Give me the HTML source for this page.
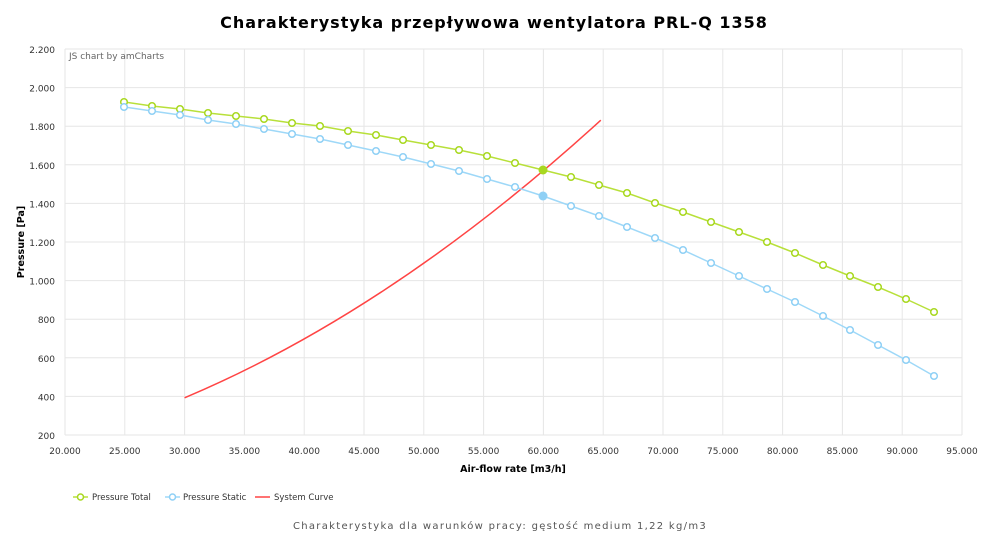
<!DOCTYPE html>
<html><head><meta charset="utf-8"><style>
body{margin:0;background:#fff;width:1000px;height:541px;overflow:hidden;font-family:"DejaVu Sans","Liberation Sans",sans-serif;}
</style></head><body>
<svg width="1000" height="541" xmlns="http://www.w3.org/2000/svg" font-family="DejaVu Sans, Liberation Sans, sans-serif">
<text x="494" y="28" text-anchor="middle" font-size="16" font-weight="bold" letter-spacing="1" fill="#000">Charakterystyka przepływowa wentylatora PRL-Q 1358</text>
<g stroke="#e6e6e6" stroke-width="1">
<line x1="65" y1="49" x2="962" y2="49"/><line x1="65" y1="87.6" x2="962" y2="87.6"/><line x1="65" y1="126.2" x2="962" y2="126.2"/><line x1="65" y1="164.8" x2="962" y2="164.8"/><line x1="65" y1="203.4" x2="962" y2="203.4"/><line x1="65" y1="242" x2="962" y2="242"/><line x1="65" y1="280.6" x2="962" y2="280.6"/><line x1="65" y1="319.2" x2="962" y2="319.2"/><line x1="65" y1="357.8" x2="962" y2="357.8"/><line x1="65" y1="396.4" x2="962" y2="396.4"/><line x1="65" y1="435" x2="962" y2="435"/>
<line x1="65" y1="49" x2="65" y2="435"/><line x1="124.8" y1="49" x2="124.8" y2="435"/><line x1="184.6" y1="49" x2="184.6" y2="435"/><line x1="244.4" y1="49" x2="244.4" y2="435"/><line x1="304.2" y1="49" x2="304.2" y2="435"/><line x1="364" y1="49" x2="364" y2="435"/><line x1="423.8" y1="49" x2="423.8" y2="435"/><line x1="483.6" y1="49" x2="483.6" y2="435"/><line x1="543.4" y1="49" x2="543.4" y2="435"/><line x1="603.2" y1="49" x2="603.2" y2="435"/><line x1="663" y1="49" x2="663" y2="435"/><line x1="722.8" y1="49" x2="722.8" y2="435"/><line x1="782.6" y1="49" x2="782.6" y2="435"/><line x1="842.4" y1="49" x2="842.4" y2="435"/><line x1="902.2" y1="49" x2="902.2" y2="435"/><line x1="962" y1="49" x2="962" y2="435"/>
</g>
<text x="69" y="59" font-size="9" fill="#666">JS chart by amCharts</text>
<g font-size="9" fill="#333" text-anchor="end">
<text x="55" y="53">2.200</text><text x="55" y="91.6">2.000</text><text x="55" y="130.2">1.800</text><text x="55" y="168.8">1.600</text><text x="55" y="207.4">1.400</text><text x="55" y="246">1.200</text><text x="55" y="284.6">1.000</text><text x="55" y="323.2">800</text><text x="55" y="361.8">600</text><text x="55" y="400.4">400</text><text x="55" y="439">200</text>
</g>
<g font-size="9" fill="#333" text-anchor="middle">
<text x="65" y="454">20.000</text><text x="124.8" y="454">25.000</text><text x="184.6" y="454">30.000</text><text x="244.4" y="454">35.000</text><text x="304.2" y="454">40.000</text><text x="364" y="454">45.000</text><text x="423.8" y="454">50.000</text><text x="483.6" y="454">55.000</text><text x="543.4" y="454">60.000</text><text x="603.2" y="454">65.000</text><text x="663" y="454">70.000</text><text x="722.8" y="454">75.000</text><text x="782.6" y="454">80.000</text><text x="842.4" y="454">85.000</text><text x="902.2" y="454">90.000</text><text x="962" y="454">95.000</text>
</g>
<text x="513" y="472" font-size="9.5" font-weight="bold" text-anchor="middle" fill="#000">Air-flow rate [m3/h]</text>
<text transform="translate(24,242) rotate(-90)" font-size="9.5" font-weight="bold" text-anchor="middle" fill="#000">Pressure [Pa]</text>
<path d="M184.6 397.8 Q392.7 310 600.8 120.2" fill="none" stroke="#f44" stroke-width="1.5"/>
<polyline fill="none" stroke="#b8e03a" stroke-width="1.5" points="124,102 152,106 180,109 208,113 236,116 264,119 292,123 320,126 348,131 376,135 403,140 431,145 459,150 487,156 515,163 543,170 571,177 599,185 627,193 655,203 683,212 711,222 739,232 767,242 795,253 823,265 850,276 878,287 906,299 934,312"/>
<polyline fill="none" stroke="#9ed8f8" stroke-width="1.5" points="124,107 152,111 180,115 208,120 236,124 264,129 292,134 320,139 348,145 376,151 403,157 431,164 459,171 487,179 515,187 543,196 571,206 599,216 627,227 655,238 683,250 711,263 739,276 767,289 795,302 823,316 850,330 878,345 906,360 934,376"/>
<g fill="#fff" stroke="#a8d820" stroke-width="1.5">
<circle cx="124" cy="102" r="3.3"/><circle cx="152" cy="106" r="3.3"/><circle cx="180" cy="109" r="3.3"/><circle cx="208" cy="113" r="3.3"/><circle cx="236" cy="116" r="3.3"/><circle cx="264" cy="119" r="3.3"/><circle cx="292" cy="123" r="3.3"/><circle cx="320" cy="126" r="3.3"/><circle cx="348" cy="131" r="3.3"/><circle cx="376" cy="135" r="3.3"/><circle cx="403" cy="140" r="3.3"/><circle cx="431" cy="145" r="3.3"/><circle cx="459" cy="150" r="3.3"/><circle cx="487" cy="156" r="3.3"/><circle cx="515" cy="163" r="3.3"/><circle cx="571" cy="177" r="3.3"/><circle cx="599" cy="185" r="3.3"/><circle cx="627" cy="193" r="3.3"/><circle cx="655" cy="203" r="3.3"/><circle cx="683" cy="212" r="3.3"/><circle cx="711" cy="222" r="3.3"/><circle cx="739" cy="232" r="3.3"/><circle cx="767" cy="242" r="3.3"/><circle cx="795" cy="253" r="3.3"/><circle cx="823" cy="265" r="3.3"/><circle cx="850" cy="276" r="3.3"/><circle cx="878" cy="287" r="3.3"/><circle cx="906" cy="299" r="3.3"/><circle cx="934" cy="312" r="3.3"/>
</g>
<g fill="#fff" stroke="#8fd0f5" stroke-width="1.5">
<circle cx="124" cy="107" r="3.3"/><circle cx="152" cy="111" r="3.3"/><circle cx="180" cy="115" r="3.3"/><circle cx="208" cy="120" r="3.3"/><circle cx="236" cy="124" r="3.3"/><circle cx="264" cy="129" r="3.3"/><circle cx="292" cy="134" r="3.3"/><circle cx="320" cy="139" r="3.3"/><circle cx="348" cy="145" r="3.3"/><circle cx="376" cy="151" r="3.3"/><circle cx="403" cy="157" r="3.3"/><circle cx="431" cy="164" r="3.3"/><circle cx="459" cy="171" r="3.3"/><circle cx="487" cy="179" r="3.3"/><circle cx="515" cy="187" r="3.3"/><circle cx="571" cy="206" r="3.3"/><circle cx="599" cy="216" r="3.3"/><circle cx="627" cy="227" r="3.3"/><circle cx="655" cy="238" r="3.3"/><circle cx="683" cy="250" r="3.3"/><circle cx="711" cy="263" r="3.3"/><circle cx="739" cy="276" r="3.3"/><circle cx="767" cy="289" r="3.3"/><circle cx="795" cy="302" r="3.3"/><circle cx="823" cy="316" r="3.3"/><circle cx="850" cy="330" r="3.3"/><circle cx="878" cy="345" r="3.3"/><circle cx="906" cy="360" r="3.3"/><circle cx="934" cy="376" r="3.3"/>
</g>
<circle cx="543" cy="170" r="4.5" fill="#a8d820"/>
<circle cx="543" cy="196" r="4.5" fill="#8fd0f5"/>
<g font-size="8.5" fill="#333">
<line x1="73" y1="497" x2="88" y2="497" stroke="#b8e03a" stroke-width="1.5"/><circle cx="80.5" cy="497" r="3" fill="#fff" stroke="#a8d820" stroke-width="1.5"/><text x="92" y="500">Pressure Total</text>
<line x1="165" y1="497" x2="180" y2="497" stroke="#9ed8f8" stroke-width="1.5"/><circle cx="172.5" cy="497" r="3" fill="#fff" stroke="#8fd0f5" stroke-width="1.5"/><text x="183" y="500">Pressure Static</text>
<line x1="255" y1="497" x2="270" y2="497" stroke="#f44" stroke-width="1.5"/><text x="274" y="500">System Curve</text>
</g>
<text x="500" y="529" font-size="10" letter-spacing="1.3" text-anchor="middle" fill="#555">Charakterystyka dla warunków pracy: gęstość medium 1,22 kg/m3</text>
</svg>
</body></html>
